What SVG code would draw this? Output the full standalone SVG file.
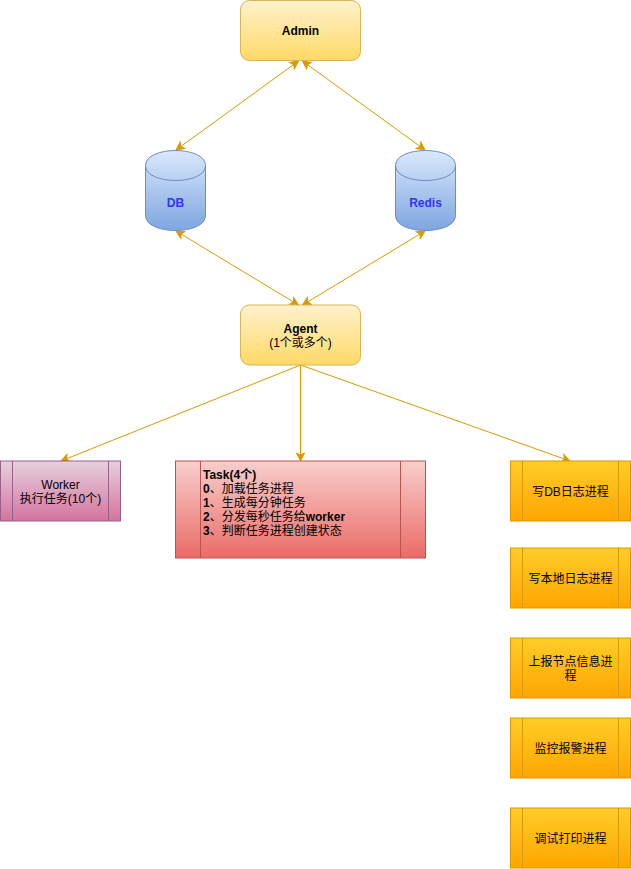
<svg xmlns="http://www.w3.org/2000/svg" width="631" height="869" viewBox="0 0 631 869">
<style>
text{font-family:"Liberation Sans","Noto Sans CJK SC",sans-serif;font-size:12px;fill:#000}
.c{text-anchor:middle}.b{font-weight:bold}
.n{font-weight:normal}
.l{fill:none;stroke:#d79b00;stroke-width:1}
.y{fill:url(#gy);stroke:#d6b656}
.o{fill:url(#go);stroke:#d79b00}
.o2{fill:none;stroke:#d79b00}
.d{fill:url(#gd);stroke:#6c8ebf}
.p{fill:url(#gp);stroke:#996185}
.r{fill:url(#gr);stroke:#b85450}
.bl{fill:#3333ff;font-weight:bold}
</style>
<defs>
<linearGradient id="gy" x1="0" y1="0" x2="0" y2="1"><stop offset="0" stop-color="#fff2cc"/><stop offset="1" stop-color="#ffd966"/></linearGradient>
<linearGradient id="go" x1="0" y1="0" x2="0" y2="1"><stop offset="0" stop-color="#ffcd28"/><stop offset="1" stop-color="#ffa500"/></linearGradient>
<linearGradient id="gd" x1="0" y1="0" x2="0" y2="1"><stop offset="0" stop-color="#dae8fc"/><stop offset="1" stop-color="#7ea6e0"/></linearGradient>
<linearGradient id="gp" x1="0" y1="0" x2="0" y2="1"><stop offset="0" stop-color="#e6d0de"/><stop offset="1" stop-color="#d5739d"/></linearGradient>
<linearGradient id="gr" x1="0" y1="0" x2="0" y2="1"><stop offset="0" stop-color="#f8cecc"/><stop offset="1" stop-color="#ea6b66"/></linearGradient>
<marker id="a" viewBox="0 0 10 10" refX="9" refY="5" markerWidth="10" markerHeight="10" markerUnits="userSpaceOnUse" orient="auto-start-reverse"><path d="M1 1L9 5L1 9L3 5Z" fill="#d79b00" stroke="#d79b00"/></marker>
</defs>
<g id="connectors">
<line class="l" x1="298.5" y1="61" x2="176" y2="150" marker-start="url(#a)" marker-end="url(#a)"/>
<line class="l" x1="302.5" y1="61" x2="425" y2="150" marker-start="url(#a)" marker-end="url(#a)"/>
<line class="l" x1="176" y1="231" x2="298.5" y2="305" marker-start="url(#a)" marker-end="url(#a)"/>
<line class="l" x1="425" y1="231" x2="302.5" y2="305" marker-start="url(#a)" marker-end="url(#a)"/>
<line class="l" x1="300.5" y1="365" x2="61" y2="461" marker-end="url(#a)"/>
<line class="l" x1="300.5" y1="365" x2="300.5" y2="461" marker-end="url(#a)"/>
<line class="l" x1="300.5" y1="365" x2="570" y2="461" marker-end="url(#a)"/>
</g>
<g id="admin"><rect class="y" x="240.5" y="0.5" width="120" height="60" rx="9" ry="9"/><text class="c b" x="300.5" y="35">Admin</text></g>
<g id="db"><path class="d" d="M145.5 165.5C145.5 145.5 205.5 145.5 205.5 165.5V215.5C205.5 235.5 145.5 235.5 145.5 215.5Z"/><path class="d" style="fill:none" d="M145.5 165.5C145.5 185.5 205.5 185.5 205.5 165.5"/><text class="c bl" x="175.5" y="207">DB</text></g>
<g id="redis"><path class="d" d="M395.5 165.5C395.5 145.5 455.5 145.5 455.5 165.5V215.5C455.5 235.5 395.5 235.5 395.5 215.5Z"/><path class="d" style="fill:none" d="M395.5 165.5C395.5 185.5 455.5 185.5 455.5 165.5"/><text class="c bl" x="425.5" y="207">Redis</text></g>
<g id="agent"><rect class="y" x="240.5" y="305" width="120" height="60" rx="9" ry="9"/><text class="c b" x="300.5" y="333">Agent</text><text class="c" x="300.5" y="347">(1个或多个)</text></g>
<g id="worker"><rect class="p" x="0.5" y="461" width="120" height="60"/><path class="p" style="fill:none" d="M12.5 461V521M108.5 461V521"/><text class="c" x="60.5" y="489">Worker</text><text class="c" x="60.5" y="503">执行任务(10个)</text></g>
<g id="task"><rect class="r" x="175.5" y="461" width="250" height="97"/><path class="r" style="fill:none" d="M200.5 461V558M400.5 461V558"/>
<text class="b" x="203" y="479">Task(4个)</text>
<text class="b" x="203" y="493">0<tspan class="n">、加载任务进程</tspan></text>
<text class="b" x="203" y="507">1<tspan class="n">、生成每分钟任务</tspan></text>
<text class="b" x="203" y="521">2<tspan class="n">、分发每秒任务给</tspan>worker</text>
<text class="b" x="203" y="535">3<tspan class="n">、判断任务进程创建状态</tspan></text></g>
<g id="p1"><rect class="o" x="510.5" y="461" width="120" height="60"/><path class="o2" d="M522.5 461V521M618.5 461V521"/><text class="c" x="570.5" y="496">写DB日志进程</text></g>
<g id="p2"><rect class="o" x="510.5" y="548" width="120" height="60"/><path class="o2" d="M522.5 548V608M618.5 548V608"/><text class="c" x="570.5" y="583">写本地日志进程</text></g>
<g id="p3"><rect class="o" x="510.5" y="638" width="120" height="60"/><path class="o2" d="M522.5 638V698M618.5 638V698"/><text class="c" x="570.5" y="666">上报节点信息进</text><text class="c" x="570.5" y="680">程</text></g>
<g id="p4"><rect class="o" x="510.5" y="718" width="120" height="60"/><path class="o2" d="M522.5 718V778M618.5 718V778"/><text class="c" x="570.5" y="753">监控报警进程</text></g>
<g id="p5"><rect class="o" x="510.5" y="808" width="120" height="60"/><path class="o2" d="M522.5 808V868M618.5 808V868"/><text class="c" x="570.5" y="843">调试打印进程</text></g>
</svg>
